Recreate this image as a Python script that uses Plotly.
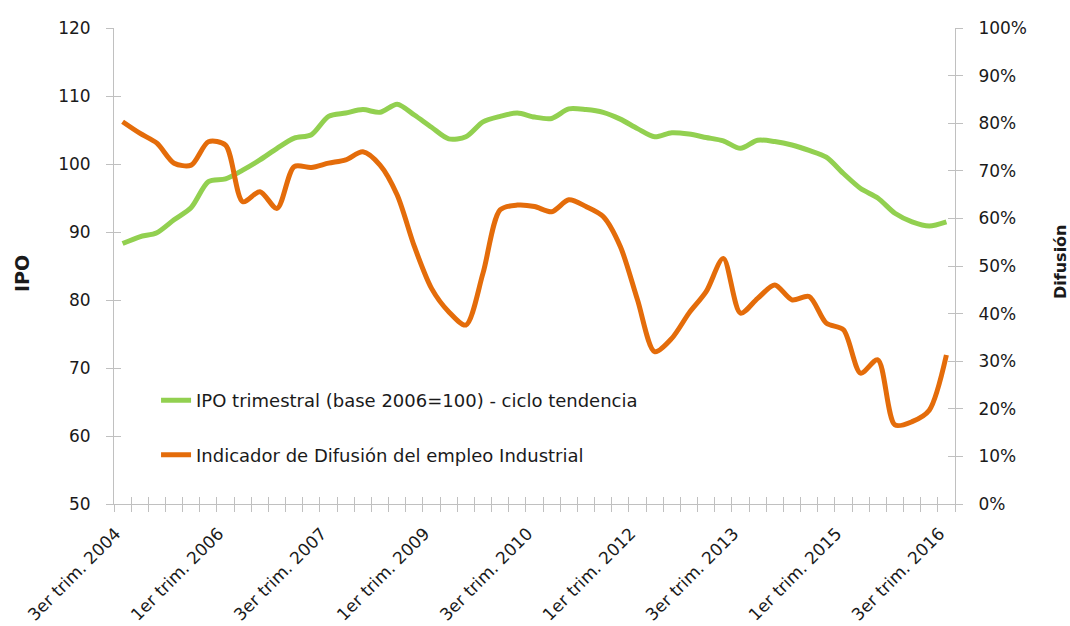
import plotly.graph_objects as go

# ---------------- data ----------------
quarters = [
    "3er trim. 2004", "4to trim. 2004",
    "1er trim. 2005", "2do trim. 2005", "3er trim. 2005", "4to trim. 2005",
    "1er trim. 2006", "2do trim. 2006", "3er trim. 2006", "4to trim. 2006",
    "1er trim. 2007", "2do trim. 2007", "3er trim. 2007", "4to trim. 2007",
    "1er trim. 2008", "2do trim. 2008", "3er trim. 2008", "4to trim. 2008",
    "1er trim. 2009", "2do trim. 2009", "3er trim. 2009", "4to trim. 2009",
    "1er trim. 2010", "2do trim. 2010", "3er trim. 2010", "4to trim. 2010",
    "1er trim. 2011", "2do trim. 2011", "3er trim. 2011", "4to trim. 2011",
    "1er trim. 2012", "2do trim. 2012", "3er trim. 2012", "4to trim. 2012",
    "1er trim. 2013", "2do trim. 2013", "3er trim. 2013", "4to trim. 2013",
    "1er trim. 2014", "2do trim. 2014", "3er trim. 2014", "4to trim. 2014",
    "1er trim. 2015", "2do trim. 2015", "3er trim. 2015", "4to trim. 2015",
    "1er trim. 2016", "2do trim. 2016", "3er trim. 2016",
]

tick_labels = [
    "3er trim. 2004", "1er trim. 2006", "3er trim. 2007", "1er trim. 2009",
    "3er trim. 2010", "1er trim. 2012", "3er trim. 2013", "1er trim. 2015",
    "3er trim. 2016",
]

ipo = [
    88.3, 89.3, 89.9, 91.8, 93.6, 97.4, 97.8, 99.1, 100.6, 102.3,
    103.8, 104.3, 107.0, 107.5, 108.0, 107.6, 108.8, 107.2, 105.4, 103.7,
    104.0, 106.2, 107.0, 107.5, 106.9, 106.7, 108.1, 108.0, 107.6, 106.6,
    105.2, 104.0, 104.6, 104.4, 103.9, 103.4, 102.3, 103.5, 103.3, 102.8,
    102.0, 101.0, 98.6, 96.4, 95.0, 92.75, 91.5, 90.9, 91.5,
]

difusion = [
    0.803, 0.779, 0.758, 0.716, 0.712, 0.761, 0.754, 0.635, 0.656, 0.621,
    0.709, 0.707, 0.716, 0.723, 0.740, 0.712, 0.649, 0.541, 0.453, 0.404,
    0.376, 0.485, 0.618, 0.628, 0.625, 0.614, 0.639, 0.625, 0.604, 0.541,
    0.429, 0.320, 0.348, 0.401, 0.446, 0.516, 0.401, 0.432, 0.460, 0.429,
    0.436, 0.380, 0.366, 0.275, 0.303, 0.166, 0.173, 0.197, 0.313,
]

ipo_name = "IPO trimestral (base 2006=100) - ciclo tendencia"
dif_name = "Indicador de Difusión del empleo Industrial"

# ---------------- style ----------------
FONT = "DejaVu Sans"
TXT = "#1a1a1a"
AXC = "#c0c0c0"
GREEN = "#92D050"
ORANGE = "#E46C0A"

xidx = list(range(len(quarters)))
# rotated labels are nudged a little left of the category centre, as in the original
label_pos = [quarters.index(t) - 0.4 for t in tick_labels]

fig = go.Figure()
fig.add_trace(go.Scatter(
    x=xidx, y=ipo, name=ipo_name, mode="lines",
    line=dict(color=GREEN, width=5, shape="spline", smoothing=0.8),
    legendgroup="a", xaxis="x", yaxis="y",
    customdata=quarters, hovertemplate="%{customdata}: %{y}<extra></extra>",
))
fig.add_trace(go.Scatter(
    x=xidx, y=difusion, name=dif_name, mode="lines",
    line=dict(color=ORANGE, width=5, shape="spline", smoothing=0.8),
    legendgroup="b", xaxis="x", yaxis="y2",
    customdata=quarters, hovertemplate="%{customdata}: %{y:.0%}<extra></extra>",
))
# empty helper traces so the tick-only overlay axes get drawn
fig.add_trace(go.Scatter(x=[], y=[], xaxis="x2", yaxis="y3", showlegend=False, hoverinfo="skip"))
fig.add_trace(go.Scatter(x=[], y=[], xaxis="x3", yaxis="y4", showlegend=False, hoverinfo="skip"))

xr = [-0.5, len(quarters) - 0.5]
tickfont = dict(family=FONT, size=17, color=TXT)

fig.update_layout(
    width=1070, height=626,
    margin=dict(l=114, r=115, t=28, b=122, autoexpand=False),
    paper_bgcolor="white", plot_bgcolor="white",
    font=dict(family=FONT, color=TXT),
    showlegend=True,
    legend=dict(
        x=0.05, y=0.256, xanchor="left", yanchor="top",
        font=dict(family=FONT, size=18, color=TXT),
        bgcolor="rgba(0,0,0,0)", tracegroupgap=28,
    ),
    xaxis=dict(
        range=xr, tickmode="array", tickvals=label_pos, ticktext=tick_labels,
        tickangle=-45, ticks="", showline=True, linecolor=AXC, linewidth=1,
        showgrid=False, zeroline=False, tickfont=tickfont, anchor="y",
        ticklabelstandoff=12, automargin=False,
    ),
    xaxis2=dict(
        range=xr, overlaying="x", anchor="y", tickmode="linear", tick0=-0.5, dtick=1,
        ticks="outside", ticklen=7, tickcolor=AXC, showticklabels=False,
        showline=False, showgrid=False, zeroline=False, automargin=False,
    ),
    xaxis3=dict(
        range=xr, overlaying="x", anchor="y", tickmode="linear", tick0=-0.5, dtick=1,
        ticks="inside", ticklen=7, tickcolor=AXC, showticklabels=False,
        showline=False, showgrid=False, zeroline=False, automargin=False,
    ),
    yaxis=dict(
        range=[50, 120], dtick=10, tick0=50, side="left",
        ticks="outside", ticklen=7, tickcolor=AXC, showline=True, linecolor=AXC,
        showgrid=False, zeroline=False, tickfont=tickfont, ticklabelstandoff=12,
        automargin=False,
    ),
    yaxis2=dict(
        range=[0, 1], dtick=0.1, tick0=0, tickformat=".0%", side="right", overlaying="y",
        ticks="outside", ticklen=7, tickcolor=AXC, showline=True, linecolor=AXC,
        showgrid=False, zeroline=False, tickfont=tickfont, ticklabelstandoff=12,
        automargin=False,
    ),
    yaxis3=dict(
        range=[50, 120], dtick=10, tick0=50, side="left", overlaying="y",
        ticks="inside", ticklen=7, tickcolor=AXC, showticklabels=False,
        showline=False, showgrid=False, zeroline=False, automargin=False,
    ),
    yaxis4=dict(
        range=[0, 1], dtick=0.1, tick0=0, side="right", overlaying="y",
        ticks="inside", ticklen=7, tickcolor=AXC, showticklabels=False,
        showline=False, showgrid=False, zeroline=False, automargin=False,
    ),
    annotations=[
        dict(text="<b>IPO</b>", x=0, y=0.5, xref="paper", yref="paper",
             xanchor="center", yanchor="middle", textangle=-90, showarrow=False,
             xshift=-92, yshift=-8, font=dict(family=FONT, size=19, color=TXT)),
        dict(text="<b>Difusión</b>", x=1, y=0.5, xref="paper", yref="paper",
             xanchor="center", yanchor="middle", textangle=-90, showarrow=False,
             xshift=105, yshift=4, font=dict(family=FONT, size=16, color=TXT)),
    ],
)

fig.write_html(
    "out.html",
    config={"displayModeBar": False},
    post_script="document.body.style.margin='0px';document.body.style.overflow='hidden';",
)
